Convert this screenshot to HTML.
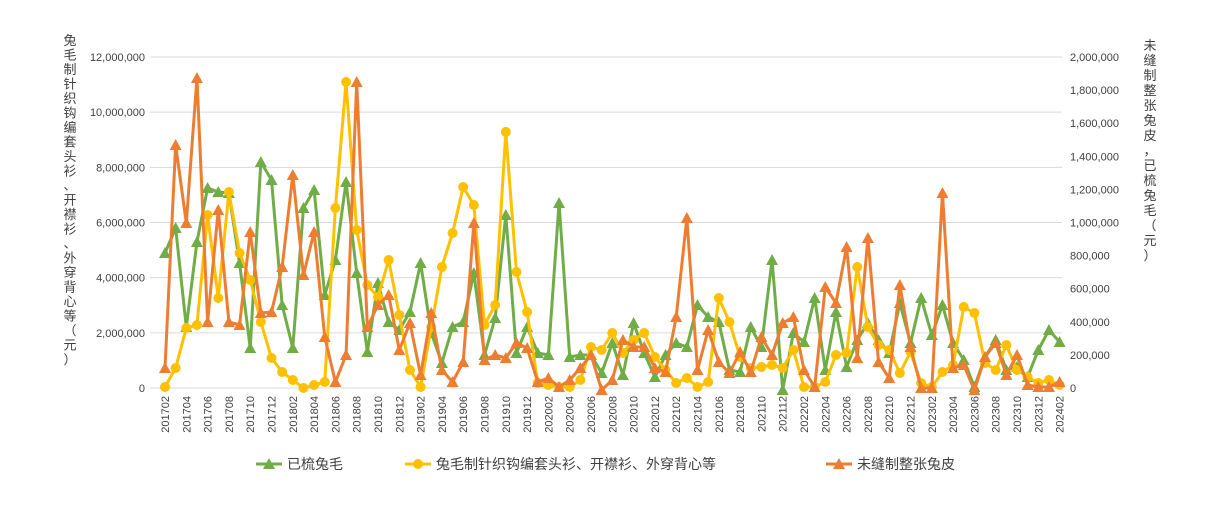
<!DOCTYPE html><html><head><meta charset="utf-8"><style>
body{margin:0;background:#fff;}
svg text{font-family:"Liberation Sans","Noto Sans CJK SC",sans-serif;fill:#404040;}
</style></head><body>
<svg id="s" width="1221" height="501" xmlns="http://www.w3.org/2000/svg"></svg>
<script>
const s=document.getElementById('s');let h='';
const G=[253,228,327,242,188,192,193,263,348,162,180,305,348,208,190,295,260,182,273,352,283,322,330,312,263,333,363,327,322,273,355,318,215,353,327,353,355,203,357,355,355,373,343,375,323,353,377,355,343,347,305,317,322,370,372,327,347,260,390,333,342,298,370,312,367,340,323,340,353,303,343,298,335,305,343,360,387,357,340,370,367,377,350,330,342];
const Y=[387,368,328,325,215,298,192,253,280,322,358,372,380,388,385,382,208,82,230,285,297,260,315,370,387,327,267,233,187,205,325,305,132,272,312,383,385,387,387,380,347,350,333,353,340,333,357,370,383,378,387,382,298,322,357,368,367,365,368,350,387,387,382,355,353,267,327,345,350,373,352,383,387,372,365,307,313,363,370,345,370,377,383,380,385];
const O=[368,145,223,78,322,210,322,325,232,313,312,267,175,275,232,337,382,355,82,327,305,295,350,323,375,313,370,382,362,223,360,355,358,343,348,382,378,387,380,368,355,390,380,340,347,347,368,372,317,218,370,330,362,373,352,372,337,355,323,317,370,387,287,303,247,358,238,362,378,285,347,388,388,193,368,365,390,357,343,375,355,385,387,387,382];
const X=i=>165+i*10.65;
for(let k=0;k<=6;k++){const y=388-k*55.17;h+=`<line x1="150" x2="1062" y1="${y}" y2="${y}" stroke="#d9d9d9"/>`;
h+=`<text x="145" y="${y+4}" font-size="11" text-anchor="end">${(k*2000000).toLocaleString('en-US')}</text>`;
h+=`<text x="1070" y="${y+4}" font-size="11">${(k*200000).toLocaleString('en-US')}</text>`;}
h+=`<text x="1070" y="${388-8*41.38+4}" font-size="11"></text>`;
// right axis has 10 ticks
h=h.replace(/<text x="1070"[^<]*<\/text>/g,'');
for(let k=0;k<=10;k++){const y=388-k*33.1;h+=`<text x="1070" y="${y+4}" font-size="11">${(k*200000).toLocaleString('en-US')}</text>`;}
for(let i=0;i<85;i+=2){const x=X(i);const yy=(i/12|0)+2017, m=(i%12)+2;let yr=2017+Math.floor((i+1)/12),mo=((i+1)%12)+1;h+=`<text transform="translate(${x+4},396) rotate(-90)" font-size="11" text-anchor="end">${yr}${String(mo).padStart(2,'0')}</text>`;}
function line(d,c){return `<polyline fill="none" stroke="${c}" stroke-width="3" stroke-linejoin="round" points="${d.map((y,i)=>X(i)+','+y).join(' ')}"/>`;}
function tri(d,c){return d.map((y,i)=>`<polygon fill="${c}" points="${X(i)},${y-6} ${X(i)-6},${y+5} ${X(i)+6},${y+5}"/>`).join('');}
h+=line(G,'#70AD47')+tri(G,'#70AD47');
h+=line(Y,'#FFC000')+Y.map((y,i)=>`<circle cx="${X(i)}" cy="${y}" r="5" fill="#FFC000"/>`).join('');
h+=line(O,'#ED7D31')+tri(O,'#ED7D31');
const lt="兔毛制针织钩编套头衫、开襟衫、外穿背心等（元）";
[...lt].forEach((c,i)=>h+=`<text x="70" y="${45+i*14.5}" font-size="13" text-anchor="middle">${c}</text>`);
const rt="未缝制整张兔皮，已梳兔毛（元）";
[...rt].forEach((c,i)=>h+=`<text x="1150" y="${50+i*15}" font-size="13" text-anchor="middle">${c}</text>`);
h+=`<line x1="256" x2="282" y1="464" y2="464" stroke="#70AD47" stroke-width="3"/><polygon fill="#70AD47" points="269,458 263,469 275,469"/><text x="287" y="469" font-size="14">已梳兔毛</text>`;
h+=`<line x1="405" x2="431" y1="464" y2="464" stroke="#FFC000" stroke-width="3"/><circle cx="418" cy="464" r="5" fill="#FFC000"/><text x="436" y="469" font-size="14">兔毛制针织钩编套头衫、开襟衫、外穿背心等</text>`;
h+=`<line x1="826" x2="852" y1="464" y2="464" stroke="#ED7D31" stroke-width="3"/><polygon fill="#ED7D31" points="839,458 833,469 845,469"/><text x="857" y="469" font-size="14">未缝制整张兔皮</text>`;
s.innerHTML=h;
</script></body></html>
